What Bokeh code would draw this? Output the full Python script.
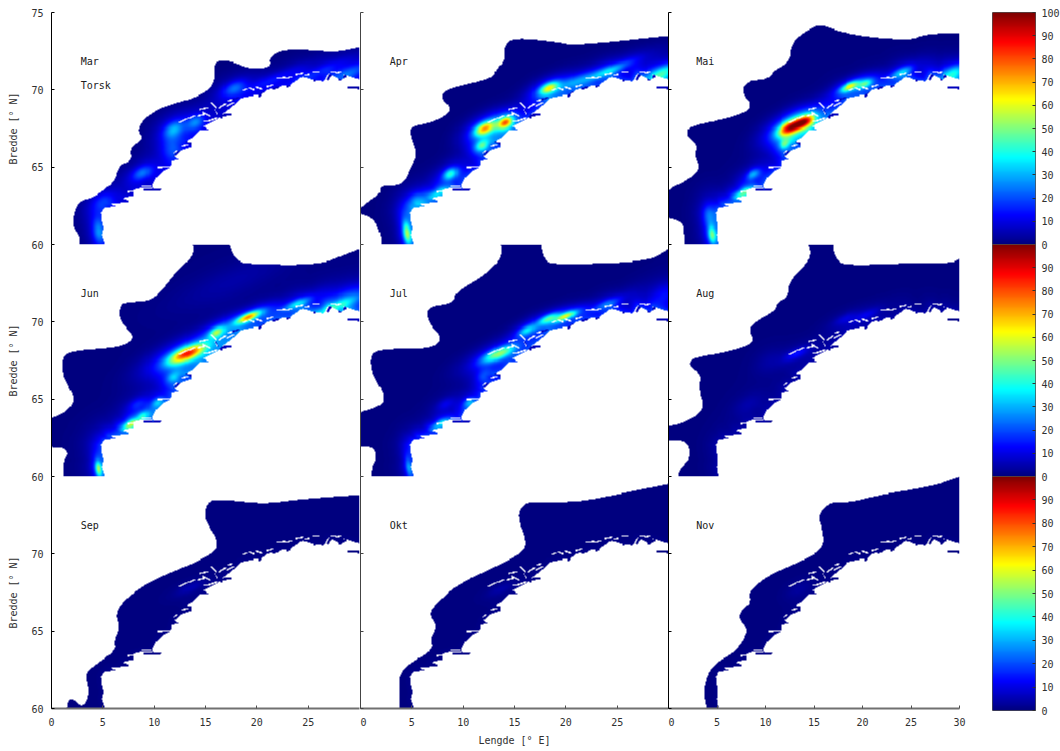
import numpy as np
from bokeh.plotting import figure
from bokeh.layouts import column, row
from bokeh.models import LinearAxis, FixedTicker, LinearColorMapper, Range1d, Label
from bokeh.embed import file_html
from bokeh.resources import INLINE

FONT = "DejaVu Sans Mono"
months = ["Mar", "Apr", "Mai", "Jun", "Jul", "Aug", "Sep", "Okt", "Nov"]
lon_ticks = [0, 5, 10, 15, 20, 25, 30]
lat_ticks = [60, 65, 70, 75]
bar_ticks = [0, 10, 20, 30, 40, 50, 60, 70, 80, 90, 100]

# Norwegian coast, shared by all months (lon, lat)
coast_lon = [5.26, 4.94, 5.1, 4.94, 4.84, 5.1, 6.2, 5.6, 7.7, 6.88, 8.0, 8.0, 8.67, 9.8, 9.9, 9.8, 10.13, 10.94, 11.59,
             11.75, 12.4, 11.9, 12.4, 13.7, 13.05, 13.85, 14.5, 15.3, 14.83, 16.13, 16.94, 17.75, 18.4, 20.03, 20.35,
             21.0, 21.97, 23.27, 24.4, 25.5, 26.5, 27.0, 28.3, 28.46, 30.0]
coast_lat = [60.0, 60.64, 61.05, 61.49, 62.03, 62.35, 62.5, 62.62, 62.78, 63.0, 63.17, 63.53, 63.64, 63.64, 63.49, 63.86,
             64.29, 64.78, 65.0, 65.37, 65.51, 65.69, 66.0, 66.33, 66.66, 66.98, 67.41, 67.41, 67.63, 68.06, 68.6, 69.03,
             69.46, 69.68, 69.7, 70.0, 70.2, 70.3, 70.85, 70.65, 70.54, 71.07, 70.65, 71.0, 70.67]

# Islands (white) inside the coastal band: lon1, lat1, lon2, lat2
isle_lon1 = [12.5, 13.3, 14.3, 14.45, 14.77, 15.58, 16.0, 16.4, 17.2, 17.05, 14.9, 15.6, 18.7, 19.3, 20.0, 21.0, 21.97, 22.9, 23.9, 24.7, 25.5, 27.3, 27.8, 8.9, 10.4, 11.2, 7.5, 5.5, 5.4, 6.0, 12.8, 12.0]
isle_lat1 = [67.89, 68.14, 68.32, 68.74, 68.53, 69.18, 68.7, 68.85, 69.29, 68.96, 67.95, 68.05, 69.95, 70.1, 70.15, 70.2, 70.75, 70.75, 71.0, 70.95, 71.18, 71.15, 71.1, 63.75, 65.0, 65.05, 63.4, 61.05, 61.6, 60.1, 66.35, 65.9]
isle_lon2 = [13.15, 13.96, 15.1, 15.26, 15.42, 16.07, 16.2, 16.9, 18.18, 17.7, 15.4, 16.1, 19.0, 19.7, 20.5, 21.5, 22.7, 23.4, 24.4, 25.0, 26.0, 27.7, 28.1, 9.6, 11.0, 11.6, 8.0, 6.0, 5.9, 6.3, 13.2, 12.3]
isle_lat2 = [68.1, 68.32, 68.45, 68.85, 68.31, 68.85, 68.45, 69.07, 69.5, 69.18, 68.0, 68.15, 70.05, 70.0, 70.05, 70.3, 70.8, 70.85, 71.07, 71.0, 71.18, 71.15, 71.15, 63.75, 65.02, 65.05, 63.45, 61.15, 61.65, 60.2, 66.45, 66.05]

# Fjords (dark water) reaching into the land: lon1, lat1, lon2, lat2
fjord_lon1 = [20.3, 21.6, 23.0, 25.6, 26.95, 28.1, 28.9, 15.9, 17.7, 13.0, 11.85, 9.1, 16.1]
fjord_lat1 = [69.6, 70.04, 70.2, 70.6, 70.7, 70.7, 70.15, 68.3, 69.4, 66.6, 65.7, 63.55, 68.7]
fjord_lon2 = [20.8, 22.1, 23.2, 26.3, 27.2, 28.6, 30.0, 17.4, 18.5, 13.5, 12.5, 10.55, 16.6]
fjord_lat2 = [70.1, 70.2, 70.3, 70.9, 71.0, 70.9, 70.1, 68.4, 69.6, 66.5, 66.05, 63.55, 68.2]

# Offshore edge of the distribution, month by month
mar_lon = [2.73, 2.73, 1.95, 2.24, 2.66, 4.12, 6.07, 6.56, 7.86, 7.63, 9.0, 8.34, 9.32, 10.78, 13.86, 15.49, 15.97, 15.81, 16.62, 17.76, 19.38, 21.33, 21.17, 22.63, 26.2, 27.5, 30.0]
mar_lat = [60.0, 60.5, 61.28, 62.14, 62.8, 63.05, 63.98, 65.17, 65.39, 66.26, 66.8, 67.45, 68.31, 68.9, 69.46, 70.04, 70.8, 71.67, 71.93, 71.77, 71.34, 71.45, 72.1, 72.64, 72.53, 72.42, 72.75]
apr_lon = [1.95, 2.0, 1.3, -0.2, -0.2, 0.8, 1.95, 1.95, 4.2, 5.03, 5.58, 4.87, 4.87, 7.47, 9.09, 7.73, 8.6, 13.0, 13.15, 14.1, 13.96, 14.94, 19.5, 20.8, 30.0]
apr_lat = [60.0, 60.63, 61.7, 62.03, 62.25, 62.8, 63.33, 63.83, 63.83, 65.17, 65.82, 67.12, 67.6, 67.99, 68.74, 69.5, 70.1, 70.76, 71.34, 71.88, 72.86, 73.4, 73.07, 72.86, 73.5]
mai_lon = [1.61, 1.54, 1.37, -0.6, -0.6, 2.4, 3.26, 2.68, 3.09, 1.79, 2.23, 6.52, 8.75, 7.48, 8.07, 10.3, 11.0, 12.53, 12.7, 14.42, 15.79, 17.5, 20.6, 25.06, 26.43, 30.0]
mai_lat = [60.0, 60.85, 61.49, 61.82, 63.4, 64.3, 64.96, 65.82, 66.36, 67.12, 67.66, 68.2, 68.85, 69.83, 70.58, 70.69, 71.34, 71.77, 73.07, 73.94, 74.22, 73.79, 73.4, 73.22, 73.6, 73.7]
jun_lon = [1.2, 1.2, 1.69, 1.2, -0.6, -0.6, 1.2, 2.34, 1.53, 1.1, 1.1, 2.34, 6.4, 8.18, 7.37, 6.56, 6.7, 7.5, 10.0, 12.24, 14.03, 13.38, 17.1, 17.76, 20.0, 26.2, 28.8, 30.0]
jun_lat = [60.0, 61.03, 61.47, 61.9, 61.9, 63.66, 64.05, 64.91, 65.99, 66.64, 67.82, 68.15, 68.32, 68.9, 69.55, 70.2, 71.16, 71.27, 71.38, 73.32, 74.4, 75.6, 75.6, 73.92, 73.7, 73.7, 74.4, 74.7]
jul_lon = [1.14, 1.14, 1.62, 1.3, -0.6, -0.6, 1.62, 2.34, 2.1, 1.14, 0.97, 1.95, 6.82, 8.05, 6.66, 6.33, 9.1, 9.25, 12.34, 13.96, 13.25, 17.37, 17.86, 18.83, 27.9, 30.0]
jul_lat = [60.0, 60.6, 61.25, 61.94, 61.94, 64.05, 64.48, 64.91, 65.56, 66.64, 67.82, 68.25, 68.25, 68.9, 69.87, 70.95, 71.21, 71.92, 73.1, 74.4, 75.6, 75.6, 73.97, 73.7, 73.86, 74.7]
aug_lon = [1.03, 1.03, 2.4, 1.89, -0.6, -0.6, 1.37, 3.78, 3.09, 3.43, 2.0, 2.75, 6.18, 9.0, 8.3, 8.93, 11.0, 11.16, 12.36, 12.43, 13.9, 14.76, 14.0, 16.82, 17.17, 18.54, 24.03, 29.18, 30.0]
aug_lat = [60.0, 60.4, 61.25, 62.37, 62.28, 63.19, 63.4, 64.27, 65.78, 66.53, 67.28, 67.72, 68.04, 68.69, 69.44, 69.98, 70.73, 71.27, 71.6, 72.57, 73.53, 74.4, 75.6, 75.6, 73.97, 73.64, 73.79, 73.79, 74.07]
sep_lon = [1.53, 1.69, 2.18, 2.76, 3.41, 3.64, 3.31, 3.64, 6.23, 6.07, 6.66, 6.23, 6.72, 8.02, 10.0, 13.86, 16.14, 16.14, 15.3, 14.84, 15.32, 16.46, 20.7, 24.25, 30.0]
sep_lat = [60.0, 60.58, 60.58, 60.15, 60.37, 61.23, 62.1, 62.53, 63.71, 64.47, 65.23, 65.98, 66.74, 67.49, 68.36, 69.4, 70.19, 70.95, 71.81, 72.57, 73.43, 73.54, 73.22, 73.54, 73.82]
okt_lon = [3.83, 3.73, 3.83, 4.38, 7.14, 6.75, 7.47, 6.66, 7.3, 9.74, 12.34, 15.9, 16.17, 15.26, 15.9, 16.88, 21.1, 25.97, 30.0]
okt_lat = [60.0, 61.66, 62.1, 62.74, 63.82, 64.47, 65.33, 66.09, 66.74, 68.14, 68.9, 70.09, 70.84, 72.46, 73.22, 73.37, 73.33, 73.97, 74.51]
nov_lon = [3.95, 3.6, 3.95, 4.63, 7.04, 8.24, 7.2, 7.55, 8.58, 8.24, 10.3, 13.04, 16.13, 15.79, 15.45, 16.65, 18.88, 21.28, 27.46, 30.0]
nov_lat = [60.0, 61.0, 62.1, 62.85, 63.71, 65.12, 65.77, 66.42, 66.9, 67.5, 68.63, 69.34, 70.32, 71.83, 72.48, 73.39, 73.33, 73.76, 74.4, 75.0]

# Density peaks: position, value (0-100), spread in degrees
mar_spot = [[11.9, 67.45, 24, .7, .35], [14.0, 67.9, 20, .6, .3], [11.75, 66.25, 15, .7, .6], [8.83, 64.63, 22, .7, .3], [17.76, 70.1, 20, .8, .3],
            [4.6, 60.85, 22, .4, .6], [5.1, 62.8, 13, .8, .4], [29.1, 71.13, 18, 1.5, .3], [21.65, 70.7, 10, 2, .25], [25.9, 71.13, 10, 2, .25]]
apr_spot = [[12.1, 67.5, 66, .7, .27], [14.1, 67.88, 66, .5, .24], [11.85, 66.4, 38, .5, .25], [8.77, 64.57, 38, .5, .25], [18.34, 70.1, 55, .65, .22],
            [4.55, 60.74, 45, .25, .5], [5.5, 62.8, 18, .7, .4], [7.6, 63.33, 22, .7, .2], [24.2, 71.23, 26, 1.5, .2], [29.5, 71.13, 36, 1, .3], [21.1, 70.6, 16, 1.5, .25]]
mai_spot = [[12.53, 67.55, 80, .9, .3], [14.07, 67.95, 66, .7, .26], [12.0, 66.5, 32, .4, .22], [8.75, 64.55, 26, .5, .22], [18.7, 70.2, 55, .65, .17], [20.25, 70.37, 34, .5, .17],
            [7.72, 63.33, 34, .6, .18], [4.46, 60.63, 38, .25, .4], [4.1, 61.9, 14, .4, .5], [24.0, 71.13, 26, .8, .2], [29.5, 71.13, 30, .8, .3]]
jun_spot = [[13.2, 67.93, 82, 1.25, .3], [16.1, 69.33, 40, .5, .2], [19.2, 70.3, 68, .8, .17], [11.9, 66.42, 22, .5, .25], [8.34, 64.7, 12, .6, .25], [10.3, 64.8, 20, .4, .2],
            [7.7, 63.36, 42, .5, .17], [9.0, 63.94, 24, .4, .2], [4.6, 60.5, 42, .2, .35], [23.9, 71.16, 26, .9, .18], [29.1, 71.6, 14, 1.5, .5], [27.5, 70.95, 20, 1.5, .2], [17.76, 72.67, 4, 4, .7]]
jul_spot = [[13.47, 67.93, 50, 1.1, .25], [16.2, 69.44, 28, .6, .2], [20.0, 70.35, 52, .7, .15], [18.3, 70.2, 36, .7, .18], [12.0, 66.5, 14, .5, .3], [10.55, 64.8, 20, .4, .2],
            [8.3, 64.7, 9, .6, .25], [7.8, 63.4, 24, .6, .17], [4.7, 60.6, 18, .2, .5], [24.0, 71.15, 18, 1, .2], [29.7, 71.8, 12, 1, .5]]
aug_spot = [[13.2, 67.93, 13, .8, .2], [20.25, 70.4, 9, 1, .2], [18.2, 70.2, 7, .8, .2], [10.3, 67.5, 3, 1, .5], [8.24, 64.7, 4, 1, .4]]
sep_spot = [[13.5, 67.8, 5, .9, .2]]
okt_spot = [[13.6, 67.7, 4, .8, .2]]
nov_spot = [[13.4, 67.7, 3, .8, .3]]

# Weak band of fish along the coast: level and reach (degrees)
glow_level = [7, 15, 17, 18, 15, 4, 1, 1, 1]
glow_reach = [.6, .5, .55, .6, .45, .5, .3, .3, .3]

outlines = [(mar_lon, mar_lat), (apr_lon, apr_lat), (mai_lon, mai_lat), (jun_lon, jun_lat), (jul_lon, jul_lat),
            (aug_lon, aug_lat), (sep_lon, sep_lat), (okt_lon, okt_lat), (nov_lon, nov_lat)]
spots = [mar_spot, apr_spot, mai_spot, jun_spot, jul_spot, aug_spot, sep_spot, okt_spot, nov_spot]

# raster grid
NX, NY = 300, 225
gx = (np.arange(NX) + .5) * 30 / NX
gy = 60 + (np.arange(NY) + .5) * 15 / NY
LON, LAT = np.meshgrid(gx, gy)
K = .6


def seg_dist(x1, y1, x2, y2):
    ax, ay, bx, by = x1 * K, y1, x2 * K, y2
    px, py = LON * K, LAT
    d2 = (bx - ax) ** 2 + (by - ay) ** 2
    t = np.clip(((px - ax) * (bx - ax) + (py - ay) * (by - ay)) / max(d2, 1e-9), 0, 1)
    return np.hypot(px - ax - t * (bx - ax), py - ay - t * (by - ay))


def inside(xs, ys):
    m = np.zeros_like(LON, dtype=bool)
    n = len(xs)
    for i in range(n):
        x1, y1, x2, y2 = xs[i], ys[i], xs[(i + 1) % n], ys[(i + 1) % n]
        if y1 == y2:
            continue
        c = ((y1 > LAT) != (y2 > LAT)) & (LON < (x2 - x1) * (LAT - y1) / (y2 - y1) + x1)
        m ^= c
    return m


def rounded(xs, ys, passes=2):
    # corner rounding of the hand-read outline; end points stay put
    x, y = list(xs), list(ys)
    for _ in range(passes):
        nx, ny = [x[0]], [y[0]]
        for i in range(len(x) - 1):
            nx += [.75 * x[i] + .25 * x[i + 1], .25 * x[i] + .75 * x[i + 1]]
            ny += [.75 * y[i] + .25 * y[i + 1], .25 * y[i] + .75 * y[i + 1]]
        nx.append(x[-1])
        ny.append(y[-1])
        x, y = nx, ny
    return x, y


coast_d = np.full(LON.shape, 1e9)
for i in range(len(coast_lon) - 1):
    coast_d = np.minimum(coast_d, seg_dist(coast_lon[i], coast_lat[i], coast_lon[i + 1], coast_lat[i + 1]))
isle = np.zeros(LON.shape, dtype=bool)
for a, b, c, d in zip(isle_lon1, isle_lat1, isle_lon2, isle_lat2):
    isle |= seg_dist(a, b, c, d) < .045
fjord = np.zeros(LON.shape, dtype=bool)
for a, b, c, d in zip(fjord_lon1, fjord_lat1, fjord_lon2, fjord_lat2):
    fjord |= seg_dist(a, b, c, d) < .075

th = np.radians(15)
jet = []
for t in np.linspace(0, 1, 256):
    r = np.clip(1.5 - abs(4 * t - 3), 0, 1)
    g = np.clip(1.5 - abs(4 * t - 2), 0, 1)
    b = np.clip(1.5 - abs(4 * t - 1), 0, 1)
    jet.append("#%02x%02x%02x" % (int(r * 255), int(g * 255), int(b * 255)))
mapper = LinearColorMapper(palette=jet, low=0, high=100, nan_color=(0, 0, 0, 0))


def field(idx):
    xs, ys = rounded(*outlines[idx])
    poly_x = list(xs) + [30.0] + list(coast_lon[::-1])
    poly_y = list(ys) + [coast_lat[-1]] + list(coast_lat[::-1])
    mask = inside(poly_x, poly_y) & ~isle
    f = glow_level[idx] * np.exp(-coast_d / glow_reach[idx])
    for lo, la, v, sx, sy in spots[idx]:
        dx, dy = LON - lo, LAT - la
        u = dx * np.cos(th) + dy * np.sin(th)
        w = -dx * np.sin(th) + dy * np.cos(th)
        r2 = (u / sx) ** 2 + (w / sy) ** 2
        f = f + v * (.72 * np.exp(-.5 * r2) + .28 * np.exp(-.5 * r2 / 5))
    f = np.clip(f, 0, 100)
    f = np.where(fjord & ~mask, np.minimum(f, 6), f)
    return np.where(mask | fjord, f, np.nan)


LEFT = 51
tops = [12, 8, 8]
bottoms = [8, 8, 40]
row_margin = [(0, 0, 0, 0), (-16, 0, 0, 0), (-16, 0, 0, 0)]
rows = []
for r in range(3):
    cells = []
    for c in range(3):
        idx = r * 3 + c
        fw = 291 if c == 2 else 308
        p = figure(frame_width=fw, frame_height=232, x_range=Range1d(0, 30), y_range=Range1d(60, 75),
                   x_axis_type=None, y_axis_type=None, toolbar_location=None, output_backend="svg",
                   min_border_left=LEFT if c == 0 else 0, min_border_right=1 if c == 0 else (9 if c == 2 else 0),
                   min_border_top=tops[r], min_border_bottom=bottoms[r], outline_line_color=None,
                   background_fill_color=None, border_fill_color=None)
        p.image(image=[field(idx)], x=0, y=60, dw=30, dh=15, color_mapper=mapper)

        ticks_y = lat_ticks if r == 0 else lat_ticks[:3]
        ya = LinearAxis(ticker=FixedTicker(ticks=ticks_y))
        ya.major_tick_in, ya.major_tick_out, ya.minor_tick_in, ya.minor_tick_out = 3, 0, 0, 0
        ya.axis_line_color = "black" if c != 1 else "#444444"
        ya.major_tick_line_color = ya.axis_line_color
        if c == 0:
            ya.major_label_text_font = FONT
            ya.major_label_text_font_size = "10px"
            ya.major_label_text_color = "#303030"
            ya.major_label_standoff = 8
            ya.axis_label = "Bredde [° N]"
            ya.axis_label_text_font = FONT
            ya.axis_label_text_font_size = "10px"
            ya.axis_label_text_font_style = "normal"
            ya.axis_label_text_color = "#303030"
            ya.axis_label_standoff = 9
        else:
            ya.major_label_overrides = {t: "" for t in ticks_y}
            ya.major_label_standoff = 0
        p.add_layout(ya, "left")

        if r == 2:
            xa = LinearAxis(ticker=FixedTicker(ticks=lon_ticks if c == 2 else lon_ticks[:6]))
            xa.major_tick_in, xa.major_tick_out, xa.minor_tick_in, xa.minor_tick_out = 3, 0, 0, 0
            xa.axis_line_color = "#707070"
            xa.axis_line_width = 2
            xa.major_tick_line_color = "#505050"
            xa.major_label_text_font = FONT
            xa.major_label_text_font_size = "10px"
            xa.major_label_text_color = "#303030"
            xa.major_label_standoff = 9
            if c == 1:
                xa.axis_label = "Lengde [° E]"
                xa.axis_label_text_font = FONT
                xa.axis_label_text_font_size = "10px"
                xa.axis_label_text_font_style = "normal"
                xa.axis_label_text_color = "#303030"
                xa.axis_label_standoff = 6
            p.add_layout(xa, "below")

        p.add_layout(Label(x=2.85, y=71.83, text=months[idx], text_font=FONT, text_font_size="10px",
                           text_color="#202020", text_baseline="middle"))
        if idx == 0:
            p.add_layout(Label(x=2.85, y=70.27, text="Torsk", text_font=FONT, text_font_size="10px",
                               text_color="#202020", text_baseline="middle"))
        cells.append(p)

    bh = 234 if r == 2 else 232
    b = figure(frame_width=43, frame_height=bh, x_range=Range1d(0, 1), y_range=Range1d(0, 100),
               x_axis_type=None, y_axis_type=None, toolbar_location=None, output_backend="svg",
               min_border_left=24, min_border_right=25, min_border_top=tops[r],
               min_border_bottom=38 if r == 2 else bottoms[r],
               outline_line_color="#505050", background_fill_color=None, border_fill_color=None)
    b.image(image=[np.linspace(0, 100, 256).reshape(256, 1)], x=0, y=0, dw=1, dh=100, color_mapper=mapper)
    ba = LinearAxis(ticker=FixedTicker(ticks=bar_ticks if r == 0 else bar_ticks[:10]))
    ba.major_tick_in, ba.major_tick_out, ba.minor_tick_in, ba.minor_tick_out = 3, 0, 0, 0
    ba.axis_line_color = None
    ba.major_tick_line_color = "#303030"
    ba.major_label_text_font = FONT
    ba.major_label_text_font_size = "10px"
    ba.major_label_text_color = "#303030"
    ba.major_label_standoff = 6
    b.add_layout(ba, "right")
    cells.append(b)
    rows.append(row(*cells, spacing=0, margin=row_margin[r]))

page = column(*rows, spacing=0)
open("out.html", "w").write(file_html(page, INLINE))
